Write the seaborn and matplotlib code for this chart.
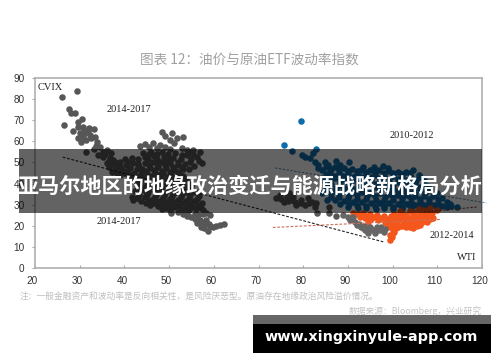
import matplotlib
matplotlib.use("Agg")
import matplotlib.pyplot as plt
import matplotlib.transforms as mtrans
from matplotlib.patches import Rectangle
import pandas as pd
import seaborn as sns

W, H = 500, 362
CJK = ["Noto Sans CJK SC", "DejaVu Sans"]

TITLE = "图表 12：油价与原油ETF波动率指数"
NOTE = "注：一般金融资产和波动率是反向相关性，是风险厌恶型。原油存在地缘政治风险溢价情况。"
SOURCE = "数据来源：Bloomberg，兴业研究"
BANNER = "亚马尔地区的地缘政治变迁与能源战略新格局分析"
URL = "www.xingxinyule-app.com"

x_ticks = list(range(20, 121, 10))
y_ticks = list(range(0, 91, 10))

gray_2014_2017 = [
    (26.1,81.2),(29.5,84.0),(27.5,75.2),(28.0,73.6),(29.0,73.6),(26.5,67.6),(30.6,70.6),(29.7,69.0),
    (28.6,64.9),(29.7,66.7),(30.8,66.7),(32.0,66.2),(33.2,65.7),(30.1,63.8),(31.2,63.8),(32.3,63.0),
    (33.4,62.2),(29.7,61.5),(30.4,59.9),(33.8,59.9),(34.5,57.5),(31.3,55.1),(33.2,56.2),(34.2,53.6),
    (36.2,56.0),(35.3,55.1),(36.8,52.0),(37.5,51.2),(36.0,49.6),(40.1,51.5),(40.9,50.4),(43.5,57.8),
    (44.6,58.8),(46.5,59.1),(45.4,57.5),(48.5,64.6),(49.1,62.6),(50.6,64.1),(51.7,61.5),(53.0,62.1),
    (50.2,60.7),(48.0,58.3),(49.1,57.5),(51.0,59.1),(52.8,56.7),(53.9,56.0),(55.4,56.0),(56.9,55.1),
    (56.2,52.8),(53.9,53.6),(47.2,56.8),(50.3,56.2),(46.0,55.1),(44.2,54.6),(48.3,54.9),(51.4,54.4),
    (44.7,52.4),(46.6,52.9),(48.9,52.6),(50.8,52.2),(52.7,51.8),(54.9,51.7),(57.3,49.6),(53.6,49.4),
    (37.3,49.2),(38.6,48.7),(36.5,47.8),(37.9,46.8),(39.4,46.5),(41.2,47.3),(43.0,49.2),(44.6,49.9),
    (46.4,50.4),(48.2,50.1),(50.1,49.6),(51.9,48.9),(55.6,48.3),(38.4,45.0),(40.2,44.8),(42.1,45.1),
    (44.0,46.8),(45.7,47.6),(47.5,47.8),(49.3,47.2),(51.1,46.6),(53.1,46.9),(41.0,43.0),(43.1,43.2),
    (45.0,44.6),(46.9,45.2),(48.7,44.9),(50.5,44.1),(52.4,44.0),(42.6,41.0),(44.5,41.5),(46.3,42.4),
    (48.1,42.7),(50.0,41.8),(51.8,41.2),(53.7,42.0),(43.5,39.0),(45.4,39.4),(47.3,40.0),(49.2,39.6),
    (51.1,38.9),(53.0,39.2),(55.0,38.7),(42.4,36.5),(44.3,37.1),(46.2,37.4),(48.1,37.2),(50.0,36.8),
    (51.9,36.6),(53.8,36.2),(55.7,35.9),(41.6,33.6),(43.2,34.6),(45.1,34.9),(47.0,34.8),(48.9,34.3),
    (50.7,34.0),(52.6,33.8),(54.5,33.2),(56.3,32.9),(42.0,32.0),(43.8,31.9),(45.6,32.2),(47.4,31.8),
    (49.2,31.4),(51.0,31.3),(52.8,31.0),(54.6,30.3),(56.4,29.9),(45.8,29.8),(47.6,29.4),(49.3,28.6),
    (51.2,28.7),(52.9,28.0),(54.5,27.5),(56.0,27.9),(57.5,27.3),(59.1,25.0),(50.4,26.2),(53.2,25.4),
    (55.0,24.0),(56.9,22.7),(57.7,20.3),(58.6,17.6),(57.2,19.5),(58.2,22.8),(59.9,19.5),(60.6,20.0),
    (61.4,20.3),(62.3,20.8),
]
gray_fill = [
    (30.9,65.2),(31.9,64.9),(32.6,61.4),(31.4,60.8),(30.8,62.2),(33.6,57.9),(35.2,52.4),(35.6,53.9),
    (36.9,54.4),(38.0,50.0),(39.1,50.2),(39.0,47.8),(40.4,48.9),(42.0,49.8),(41.8,52.0),(43.0,51.6),
    (36.6,50.8),(37.2,45.6),(39.0,44.0),(40.6,46.0),(41.2,44.2),(42.8,46.8),(43.2,47.9),(45.3,51.4),
    (45.6,53.8),(47.3,54.1),(47.4,51.5),(49.7,54.0),(49.3,50.9),(49.7,51.6),(51.9,50.4),(52.9,53.4),
    (54.4,55.0),(55.3,53.8),(54.6,50.4),(56.6,50.6),(45.4,49.0),(47.3,49.2),(49.1,48.6),(50.9,48.0),
    (52.8,47.8),(54.4,47.0),(44.9,46.0),(46.6,46.4),(48.4,46.0),(50.3,45.6),(52.1,45.4),(43.8,44.4),
    (42.2,42.2),(44.0,42.8),(45.9,43.6),(47.8,44.0),(49.6,43.0),(51.4,42.8),(53.2,43.4),(43.4,40.2),
    (45.1,40.4),(47.0,41.2),(48.9,41.0),(50.9,40.4),(52.7,40.6),(54.4,40.0),(44.2,38.4),(46.4,38.6),
    (48.3,38.6),(50.2,38.0),(52.2,37.9),(54.1,37.7),(43.2,35.8),(45.2,36.0),(47.1,36.0),(49.0,35.6),
    (51.0,35.3),(52.8,35.0),(54.7,34.6),(56.6,34.3),(42.9,33.1),(44.7,33.4),(46.6,33.3),(48.4,32.9),
    (50.1,32.6),(51.9,32.4),(53.7,31.9),(55.5,31.6),(57.4,31.0),(44.8,30.9),(46.6,30.6),(48.5,30.2),
    (50.2,29.8),(52.1,29.4),(53.8,28.9),(55.4,29.0),(57.2,28.6),(58.2,26.2),(48.4,27.9),(50.3,27.4),
    (52.0,26.6),(54.1,26.0),(55.8,25.8),(56.4,25.0),(57.6,25.4),(54.0,24.8),(55.9,23.4),(56.2,21.4),
    (57.4,21.6),(57.9,18.9),(58.9,21.0),(59.2,20.0),
]
dark_mid = [
    (73.9,33.0),(74.8,34.6),(76.3,33.8),(75.6,31.4),(77.4,32.2),(78.5,29.9),(80.4,29.9),(81.9,31.4),
    (82.6,29.1),(83.0,26.2),(85.8,29.1),(85.8,25.9),(87.3,24.6),(79.4,32.0),(81.0,33.0),(76.9,35.6),
    (75.0,32.9),(76.6,31.6),(78.2,31.4),(79.6,30.6),(81.2,30.9),(82.8,30.8),(77.8,33.6),
]
navy_2010_2012 = [
    (75.8,58.3),(79.4,69.4),(77.6,55.4),(79.7,53.6),(80.4,52.8),(82.9,56.2),(82.3,54.3),(81.5,52.0),
    (82.6,50.4),(83.4,48.8),(84.9,50.4),(85.6,48.8),(87.3,50.9),(88.2,48.8),(90.3,50.1),(93.3,48.0),
    (95.8,48.0),(97.9,48.5),(99.0,47.2),(104.5,46.4),(84.3,46.6),(86.2,46.9),(88.1,46.5),(90.0,46.0),
    (92.0,45.8),(94.0,45.4),(96.1,45.7),(98.0,45.2),(100.2,45.0),(102.1,44.6),(104.0,44.9),(105.8,44.2),
    (85.1,44.3),(87.0,43.8),(89.0,43.6),(91.1,43.2),(93.0,42.9),(95.2,43.0),(97.1,42.6),(99.2,42.3),
    (101.1,42.0),(103.2,41.9),(105.2,41.6),(107.0,41.8),(84.4,41.9),(86.1,41.2),(88.2,40.8),(90.1,40.6),
    (92.2,40.2),(94.1,40.3),(96.2,39.8),(98.1,39.5),(100.1,39.2),(102.2,39.2),(104.1,38.8),(106.2,38.6),
    (108.0,38.9),(85.4,38.8),(87.3,38.1),(89.2,37.9),(91.2,37.5),(93.1,37.2),(95.1,37.0),(97.2,36.8),
    (99.1,36.4),(101.2,36.3),(103.1,36.0),(105.1,35.8),(107.2,35.6),(109.9,35.4),(84.2,35.6),(86.2,35.3),
    (88.1,35.0),(90.2,34.8),(92.1,34.5),(94.2,34.2),(96.1,34.1),(98.2,33.8),(100.2,33.6),(102.1,33.3),
    (104.2,33.1),(106.1,32.9),(108.2,32.8),(110.1,32.6),(112.1,31.4),(85.3,32.4),(87.2,32.0),(89.1,31.8),
    (91.2,31.4),(93.1,31.2),(95.2,31.0),(97.1,30.7),(99.2,30.6),(101.1,30.2),(103.2,30.1),(105.1,30.0),
    (107.1,29.8),(109.2,29.7),(111.1,29.5),(113.0,29.2),(114.3,28.8),(90.1,28.9),(92.2,28.6),(94.1,28.4),
    (96.2,28.1),(98.1,28.2),(100.2,27.8),(102.1,27.8),(104.2,27.5),(106.1,27.7),(108.2,28.1),(110.0,28.2),
    (112.2,28.9),
]
navy_fill = [
    (83.2,47.6),(85.2,47.8),(87.1,47.9),(89.1,47.4),(91.0,47.0),(93.0,46.6),(95.0,46.6),(97.0,46.4),
    (99.1,46.0),(101.2,45.7),(103.0,45.6),(86.0,45.4),(88.0,45.0),(90.0,44.8),(92.0,44.4),(94.0,44.2),
    (96.1,44.2),(98.1,43.8),(100.1,43.4),(102.1,43.2),(104.1,43.1),(106.1,42.9),(85.4,43.0),(87.1,42.4),
    (89.1,42.1),(91.1,41.8),(93.1,41.5),(95.1,41.6),(97.1,41.1),(99.1,40.7),(101.1,40.6),(103.1,40.4),
    (105.1,40.1),(107.1,40.2),(86.3,39.9),(88.2,39.4),(90.2,39.1),(92.2,38.8),(94.1,38.6),(96.2,38.3),
    (98.1,38.0),(100.1,37.7),(102.1,37.6),(104.1,37.3),(106.1,37.1),(108.1,37.2),(85.2,37.2),(87.2,36.7),
    (89.2,36.4),(91.2,36.1),(93.2,35.8),(95.1,35.5),(97.1,35.3),(99.2,35.0),(101.1,34.8),(103.2,34.5),
    (105.1,34.3),(107.1,34.2),(109.1,34.0),(111.0,33.0),(86.2,33.6),(88.1,33.4),(90.1,33.2),(92.1,32.8),
    (94.1,32.6),(96.2,32.4),(98.1,32.2),(100.1,32.0),(102.1,31.7),(104.1,31.5),(106.1,31.4),(108.1,31.2),
    (110.1,31.0),(112.9,30.4),(88.2,30.4),(90.2,30.1),(92.1,29.8),(94.1,29.6),(96.1,29.4),(98.1,29.4),
    (100.2,29.0),(102.1,28.9),(104.1,28.8),(106.1,28.7),(108.1,28.9),(110.1,29.0),
]
orange_2012_2014 = [
    (91.2,25.9),(92.7,24.3),(93.8,23.5),(95.2,23.0),(96.8,22.6),(98.2,21.8),(99.4,13.3),(99.4,15.6),
    (100.2,18.0),(101.3,19.6),(103.1,19.6),(104.6,18.8),(106.1,20.4),(107.6,22.0),(109.1,23.5),(109.9,27.5),
    (108.4,28.3),(106.9,27.5),(93.4,26.0),(95.0,25.4),(96.6,25.2),(98.1,24.8),(99.7,24.4),(101.3,24.8),
    (102.9,25.0),(104.5,25.3),(106.2,25.5),(107.8,25.8),(94.4,21.8),(99.6,22.4),(101.1,22.6),(102.7,22.5),
    (104.3,22.7),(105.9,23.3),(107.5,24.2),(99.9,20.4),(101.0,20.9),(102.4,21.0),(104.0,20.8),(105.3,21.4),
    (100.4,16.9),(99.9,19.2),(103.8,26.9),(101.6,27.1),(105.8,27.8),(108.9,26.2),
    (92.3,25.4),(94.2,24.6),(95.9,24.2),(97.4,23.8),(99.0,23.2),(100.4,23.5),(102.0,23.8),(103.6,23.9),
    (105.2,24.2),(106.9,24.5),(108.4,24.8),(100.3,25.7),(102.2,26.1),(104.8,26.4),(107.3,26.9),(100.6,21.6),
    (103.3,21.9),(104.8,21.9),(106.6,21.8),(100.7,19.0),(102.2,19.8),(103.9,19.4),(105.4,19.8),(99.8,14.6),
    (100.0,16.4),(108.4,23.0),(98.9,19.6),(98.6,21.2),
]
gray_lower_right = [
    (89.0,25.1),(90.5,22.7),(91.2,24.0),(91.6,21.6),(92.0,20.4),(92.9,19.3),(93.8,18.0),(94.6,16.4),
    (94.9,18.4),(95.7,18.0),(96.1,16.4),(96.9,18.2),(97.6,18.0),(98.3,18.4),(93.5,20.0),(95.0,19.4),
    (92.4,21.0),(93.3,18.9),(94.2,17.4),(96.4,19.2),(97.5,19.4),(98.0,17.0),(90.0,24.0),(94.6,19.0),
]

line_black = ([26.2, 97.9], [52.5, 12.4])
line_blue = ([73.7, 121.0], [47.4, 30.8])
line_red = ([73.2, 110.6], [19.2, 23.0])
line_red2 = ([107.0, 118.9], [26.5, 28.9])

annotations = [
    ("CVIX", 23.5, 85.3), ("2014-2017", 41.0, 74.9), ("2014-2017", 38.8, 21.8),
    ("2010-2012", 104.3, 63.0), ("2012-2014", 113.3, 15.6), ("WTI", 116.6, 5.2),
]

sns.set_theme(style="white")
plt.rcParams["font.family"] = CJK
fig = plt.figure(figsize=(W / 100, H / 100), dpi=100, facecolor="white")
ax = fig.add_axes([35 / W, 1 - 268 / H, 447 / W, 190 / H])

def frame(points):
    return pd.DataFrame(points, columns=["x", "y"])

series = [(gray_2014_2017 + gray_fill, "#575757", 3), (dark_mid, "#575757", 3),
          (navy_2010_2012 + navy_fill, "#0e6cab", 4),
          (orange_2012_2014, "#f4561c", 5), (gray_lower_right, "#666666", 6)]
for pts, color, z in series:
    sns.scatterplot(data=frame(pts), x="x", y="y", ax=ax, color=color, s=22, linewidth=0, zorder=z, legend=False)

for (xs, ys), color, lw in [(line_black, "#222222", 0.8), (line_blue, "#5b8fb5", 0.7),
                            (line_red, "#c9705a", 0.8), (line_red2, "#8a3a2a", 0.7)]:
    sns.lineplot(x=xs, y=ys, ax=ax, color=color, lw=lw, ls=(0, (2.5, 1.5)), zorder=7, clip_on=False, errorbar=None)

ax.set_xlim(20, 120)
ax.set_ylim(0, 90)
ax.set_xticks(x_ticks)
ax.set_yticks(y_ticks)
ax.set_xlabel("")
ax.set_ylabel("")
for s in ax.spines.values():
    s.set_color("#b0b0b0")
    s.set_linewidth(1.2)
    s.set_visible(True)
ax.tick_params(axis="x", direction="in", length=2.5, width=0.8, color="#a8a8a8", pad=6,
               labelsize=7.2, labelcolor="#333333")
ax.tick_params(axis="y", direction="out", length=2.5, width=0.8, color="#a8a8a8", left=True, pad=5,
               labelsize=7.2, labelcolor="#333333")
ax.tick_params(axis="x", bottom=True)
shift = mtrans.ScaledTranslation(-2.5 / 100, 0, fig.dpi_scale_trans)
for lab in ax.get_xticklabels():
    lab.set_transform(lab.get_transform() + shift)
for lab in ax.get_xticklabels() + ax.get_yticklabels():
    lab.set_family("Liberation Sans")

for text, x, y in annotations:
    ax.text(x, y, text, family="Liberation Serif", fontsize=7.5, color="#222222", ha="center", va="center", zorder=8)

def px_text(px, py, s, **kw):
    return fig.text(px / W, 1 - py / H, s, **kw)

px_text(249.5, 60, TITLE, family=CJK, fontsize=9.8, color="#a0a0a0", ha="center", va="center")
px_text(20, 296, NOTE, family=CJK, fontsize=6.3, color="#bfbfbf", ha="left", va="center")
px_text(482, 311.5, SOURCE, family=CJK, fontsize=6.3, color="#c4c4c4", ha="right", va="center")

def box(x0, y0, x1, y1, color, alpha, z):
    fig.add_artist(Rectangle((x0 / W, 1 - y1 / H), (x1 - x0) / W, (y1 - y0) / H, transform=fig.transFigure,
                             facecolor=color, alpha=alpha, edgecolor="none", zorder=z))

box(19, 149, 482, 213, "black", 0.61, 20)
box(253, 315, 491, 324, "#666666", 1, 20)
box(253, 324, 491, 353, "black", 1, 20)
px_text(250, 186, BANNER, family=CJK, fontsize=15.2, fontweight="bold", color="white", ha="center", va="center", zorder=21)
px_text(371, 337, URL, family="DejaVu Sans", fontsize=10.4, fontweight="bold", color="white", ha="center", va="center", zorder=21)

fig.savefig("out.png", dpi=100)
